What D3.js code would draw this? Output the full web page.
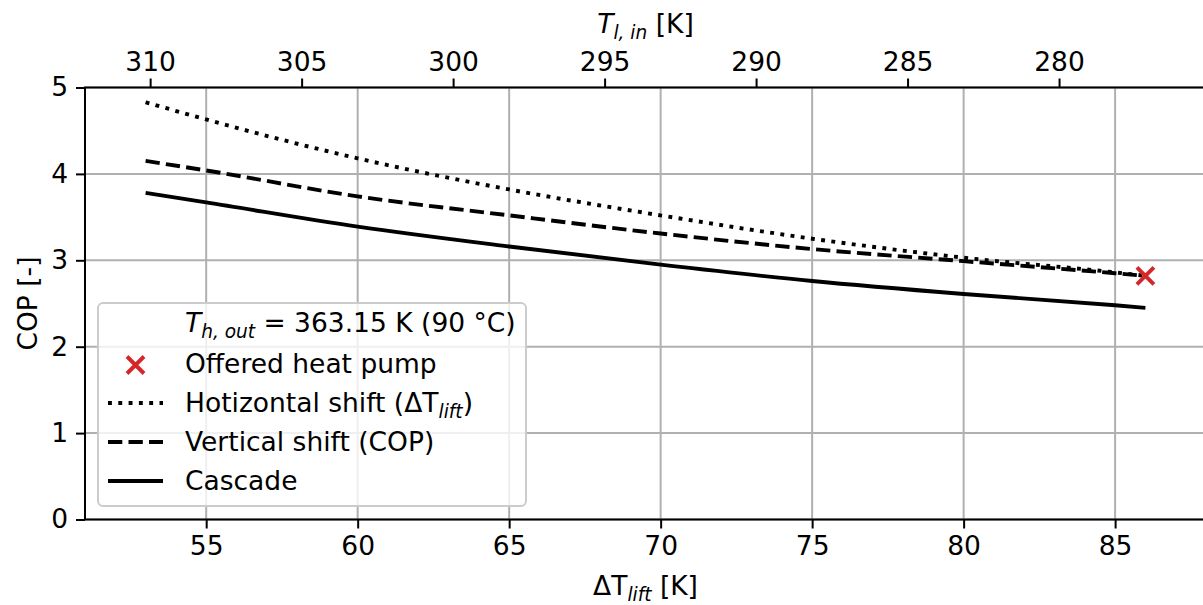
<!DOCTYPE html>
<html>
<head>
<meta charset="utf-8">
<script src="https://cdn.jsdelivr.net/npm/d3@7"></script>
<style>
  body { margin: 0; background: #fff; }
  svg text { font-family: "DejaVu Sans", sans-serif; fill: #000; }
</style>
</head>
<body>
<div id="chart"></div>
<script>
// values
var dTlift = [53, 55, 60, 65, 70, 75, 80, 85, 86];
var copHorizontal = [4.83, 4.63, 4.18, 3.82, 3.52, 3.25, 3.03, 2.86, 2.82];
var copVertical = [4.15, 4.04, 3.74, 3.52, 3.31, 3.13, 2.99, 2.85, 2.82];
var copCascade = [3.78, 3.67, 3.39, 3.16, 2.95, 2.76, 2.61, 2.48, 2.45];
var offeredDT = [86];
var offeredCOP = [2.82];
var Thout = 363.15;
var bottomTicks = [55, 60, 65, 70, 75, 80, 85];
var topTicks = [310, 305, 300, 295, 290, 285, 280];
var yTicks = [0, 1, 2, 3, 4, 5];

var svgWidth = 1203, svgHeight = 605;
var margin = {top: 87.5, right: -3, bottom: 85.5, left: 85};
var width = svgWidth - margin.left - margin.right;
var height = svgHeight - margin.top - margin.bottom;
var fs = 26.5;

var svg = d3.select("#chart").append("svg")
  .attr("width", svgWidth)
  .attr("height", svgHeight);

var g = svg.append("g")
  .attr("transform", `translate(${margin.left}, ${margin.top})`);

var x = d3.scaleLinear().domain([51, 88]).range([0, width]);
var xTop = d3.scaleLinear().domain([Thout - 51, Thout - 88]).range([0, width]);
var y = d3.scaleLinear().domain([0, 5]).range([height, 0]);

// grid
g.append("g").selectAll("line").data(bottomTicks).enter().append("line")
  .attr("x1", d => x(d)).attr("x2", d => x(d))
  .attr("y1", 0).attr("y2", height)
  .attr("stroke", "#b0b0b0").attr("stroke-width", 2);
g.append("g").selectAll("line").data(yTicks).enter().append("line")
  .attr("x1", 0).attr("x2", width)
  .attr("y1", d => y(d)).attr("y2", d => y(d))
  .attr("stroke", "#b0b0b0").attr("stroke-width", 2);

// axes
function styleAxis(sel) {
  sel.attr("font-size", fs).attr("font-family", "DejaVu Sans");
  sel.select(".domain").remove();
  sel.selectAll(".tick line").attr("stroke", "#000").attr("stroke-width", 2);
  sel.selectAll(".tick text").attr("fill", "#000");
}
g.append("g")
  .attr("transform", `translate(0, ${height})`)
  .call(d3.axisBottom(x).tickValues(bottomTicks).tickSize(9).tickPadding(8))
  .call(styleAxis);
g.append("g")
  .call(d3.axisTop(xTop).tickValues(topTicks).tickSize(9).tickPadding(8))
  .call(styleAxis);
g.append("g")
  .call(d3.axisLeft(y).tickValues(yTicks).tickFormat(d3.format("d")).tickSize(9).tickPadding(8))
  .call(styleAxis);

// spines
g.append("path")
  .attr("d", `M${width},0 H0 V${height} H${width}`)
  .attr("fill", "none").attr("stroke", "#000").attr("stroke-width", 2);

// lines
var line = d3.line()
  .x(d => x(d[0]))
  .y(d => y(d[1]))
  .curve(d3.curveMonotoneX);

var series = [
  {vals: copHorizontal, dash: "3.9,6.4"},
  {vals: copVertical, dash: "14.3,6.2"},
  {vals: copCascade, dash: null}
];
series.forEach(function(s) {
  g.append("path")
    .datum(dTlift.map((d, i) => [d, s.vals[i]]))
    .attr("d", line)
    .attr("fill", "none")
    .attr("stroke", "#000")
    .attr("stroke-width", 3.9)
    .attr("stroke-dasharray", s.dash);
});

// offered heat pump marker
function xMarker(sel, cx, cy, r) {
  sel.append("path")
    .attr("d", `M${cx - r},${cy - r} L${cx + r},${cy + r} M${cx - r},${cy + r} L${cx + r},${cy - r}`)
    .attr("stroke", "#d62728").attr("stroke-width", 3.9).attr("fill", "none");
}
offeredDT.forEach(function(d, i) {
  xMarker(g, x(d), y(offeredCOP[i]), 8.5);
});

// axis labels
function mathText(sel, parts) {
  parts.forEach(function(p) {
    var t = sel.append("tspan").text(p.t);
    if (p.italic) t.attr("font-style", "italic");
    if (p.sub) t.attr("font-size", fs * 0.7).attr("dy", 6);
    if (p.unsub) t.attr("dy", -6);
  });
}

var xl = svg.append("text")
  .attr("x", margin.left + width / 2).attr("y", 595)
  .attr("text-anchor", "middle").attr("font-size", fs);
mathText(xl, [{t: "ΔT"}, {t: "lift", italic: true, sub: true}, {t: " [K]", unsub: true}]);

var tl = svg.append("text")
  .attr("x", margin.left + width / 2).attr("y", 33)
  .attr("text-anchor", "middle").attr("font-size", fs);
mathText(tl, [{t: "T", italic: true}, {t: "l, in", italic: true, sub: true}, {t: " [K]", unsub: true}]);

svg.append("text")
  .attr("transform", "rotate(-90)")
  .attr("x", -(margin.top + height / 2)).attr("y", 37)
  .attr("text-anchor", "middle").attr("font-size", fs)
  .text("COP [-]");

// legend
var leg = svg.append("g");
leg.append("rect")
  .attr("x", 98).attr("y", 303).attr("width", 428).attr("height", 203)
  .attr("rx", 5).attr("ry", 5)
  .attr("fill", "#fff").attr("fill-opacity", 0.8)
  .attr("stroke", "#cccccc").attr("stroke-width", 2);

var rowY = [323, 364, 403, 442, 481];
var tx = 185;
var t0 = leg.append("text").attr("x", tx).attr("y", rowY[0] + 9).attr("font-size", fs);
mathText(t0, [{t: "T", italic: true}, {t: "h, out", italic: true, sub: true}, {t: " = 363.15 K (90 °C)", unsub: true}]);

xMarker(leg, 135.5, rowY[1] + 1, 8.5);
leg.append("text").attr("x", tx).attr("y", rowY[1] + 9).attr("font-size", fs).text("Offered heat pump");

var legLines = [
  {dash: "3.9,6.4", row: 2},
  {dash: "14.3,6.2", row: 3},
  {dash: null, row: 4}
];
legLines.forEach(function(l) {
  leg.append("line")
    .attr("x1", 108).attr("x2", 163)
    .attr("y1", rowY[l.row]).attr("y2", rowY[l.row])
    .attr("stroke", "#000").attr("stroke-width", 3.9)
    .attr("stroke-dasharray", l.dash);
});
var t2 = leg.append("text").attr("x", tx).attr("y", rowY[2] + 9).attr("font-size", fs);
mathText(t2, [{t: "Hotizontal shift (ΔT"}, {t: "lift", italic: true, sub: true}, {t: ")", unsub: true}]);
leg.append("text").attr("x", tx).attr("y", rowY[3] + 9).attr("font-size", fs).text("Vertical shift (COP)");
leg.append("text").attr("x", tx).attr("y", rowY[4] + 9).attr("font-size", fs).text("Cascade");
</script>
</body>
</html>
